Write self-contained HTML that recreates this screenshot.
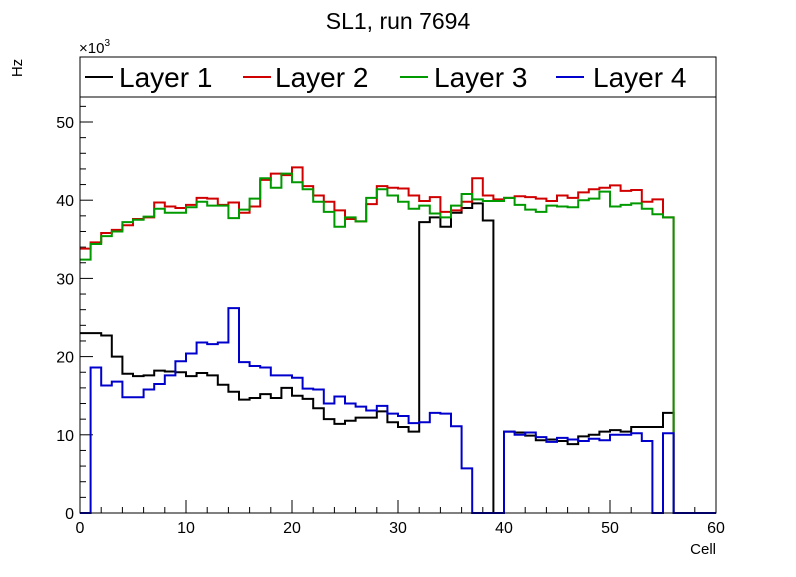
<!DOCTYPE html>
<html><head><meta charset="utf-8"><style>
body{margin:0;background:#fff;}
svg text{font-family:"Liberation Sans",Arial,sans-serif;}
</style></head><body>
<svg id="chart" width="796" height="572" xmlns="http://www.w3.org/2000/svg">
<rect width="796" height="572" fill="#fff"/>
<text x="398" y="29" font-size="23" text-anchor="middle">SL1, run 7694</text>
<text x="0" y="0" font-size="15" text-anchor="middle" transform="translate(22,68) rotate(-90)">Hz</text>
<text x="716" y="554" font-size="15" text-anchor="end">Cell</text>
<text x="79" y="53" font-size="15">×10<tspan font-size="10" dy="-7">3</tspan></text>
<g id="axes"></g>
<g id="series"></g>
<rect x="80" y="57" width="636" height="456" fill="none" stroke="#000" stroke-width="1"/>
<g>
<rect x="80" y="57" width="636" height="40" fill="#fff" stroke="#000" stroke-width="1"/>
<line x1="85" y1="77" x2="113" y2="77" stroke="#000" stroke-width="2"/>
<text x="119" y="87" font-size="28">Layer 1</text>
<line x1="243" y1="77" x2="271" y2="77" stroke="#d00000" stroke-width="2"/>
<text x="275" y="87" font-size="28">Layer 2</text>
<line x1="400" y1="77" x2="428" y2="77" stroke="#009900" stroke-width="2"/>
<text x="434" y="87" font-size="28">Layer 3</text>
<line x1="556" y1="77" x2="584" y2="77" stroke="#0000cc" stroke-width="2"/>
<text x="593" y="87" font-size="28">Layer 4</text>
</g>
</svg>
<script>
const layer1=[23,23,22.7,20,17.8,17.5,17.6,18.2,18.1,18,17.5,17.9,17.6,16.4,15.5,14.5,14.7,15.2,14.7,16,15,14.6,13.4,12,11.4,11.8,12.2,12.2,13,11.6,11,10.4,37.2,37.8,36.6,38.4,39,39.6,37.4,0,10.4,10.3,9.9,9.3,9.4,9.2,8.8,9.8,10,10.4,10.6,10.4,11,11,11,12.8,0,0,0,0];
const layer2=[33.8,34.6,35.8,36.2,36.8,37.6,37.8,39.7,39.2,39,39.4,40.3,40.2,39.4,39.7,38.4,39.2,42.6,43.4,43.2,44.2,41.8,40.6,39.8,38.7,37.6,37.3,39.5,41.8,41.6,41.5,40.6,39.9,40.4,38.5,38.7,39.8,42.8,40.6,40.1,40.3,40.5,40.4,40.2,39.9,40.6,40.3,41,41.4,41.6,41.9,41.2,41.3,39.8,40.1,37.8,0,0,0,0];
const layer3=[32.4,34.4,35.4,36,37.2,37.5,37.9,38.9,38.4,38.4,39.1,39.8,39.3,39.3,37.7,38.8,40.2,42.8,41.6,43.4,42.3,41.4,39.8,38.5,36.6,37.8,37.3,40.3,41.4,40.6,39.8,38.9,39.3,38.3,37.8,39.3,40.8,40.1,39.9,39.9,40.3,39.4,38.8,38.5,39.3,39.2,39.1,40,40.2,41.1,39.2,39.4,39.6,38.9,38.2,37.8,0,0,0,0];
const layer4=[0,18.6,16.3,16.8,14.8,14.8,15.8,16.5,17.6,19.4,20.4,21.8,21.6,21.8,26.2,19.3,18.8,18.6,17.6,17.6,17.3,15.9,15.8,14,14.9,14,13.6,13.1,13.7,12.7,12.4,11.5,11.6,12.8,12.7,11.1,5.7,0,0,0,10.4,10,10.3,9.7,9.1,9.6,9.4,9.2,9.5,9.3,10,10,10.2,9.2,0,10.2,0,0,0,0];
const xTicks=[0,10,20,30,40,50,60];
const yTicks=[0,10,20,30,40,50];
const X0=80,X1=716,Y0=513,Yper=7.82;
function sx(v){return X0+(v-0)*(X1-X0)/60;}
function sy(v){return Y0-v*Yper;}
const NS="http://www.w3.org/2000/svg";
const axes=document.getElementById('axes');
function mk(tag,attrs,parent){const e=document.createElementNS(NS,tag);for(const k in attrs)e.setAttribute(k,attrs[k]);parent.appendChild(e);return e;}
for(let v=0;v<=60;v+=2){const maj=v%10===0;const t=mk('line',{x1:sx(v),x2:sx(v),y1:Y0,y2:Y0-(maj?13:6),stroke:'#000'},axes);

}
for(let v=0;v<=56;v+=2){const maj=v%10===0;const t=mk('line',{x1:X0,x2:X0+(maj?13:6),y1:sy(v),y2:sy(v),stroke:'#000'},axes);

}
xTicks.forEach(v=>{const t=mk('text',{x:sx(v),y:533,'font-size':16,'text-anchor':'middle'},axes);t.textContent=v;

});
yTicks.forEach(v=>{const t=mk('text',{x:74,y:sy(v)+6,'font-size':16,'text-anchor':'end'},axes);t.textContent=v;

});
const ser=document.getElementById('series');
function step(arr,color,name){let d='M'+sx(0)+','+sy(arr[0]);
arr.forEach((v,i)=>{d+=' L'+sx(i)+','+sy(v)+' L'+sx(i+1)+','+sy(v);});
const p=mk('path',{d:d,fill:'none',stroke:color,'stroke-width':2},ser);

}
step(layer1,'#000','layer-1-series');
step(layer2,'#d00000','layer-2-series');
step(layer3,'#009900','layer-3-series');
step(layer4,'#0000cc','layer-4-series');
</script>
</body></html>
